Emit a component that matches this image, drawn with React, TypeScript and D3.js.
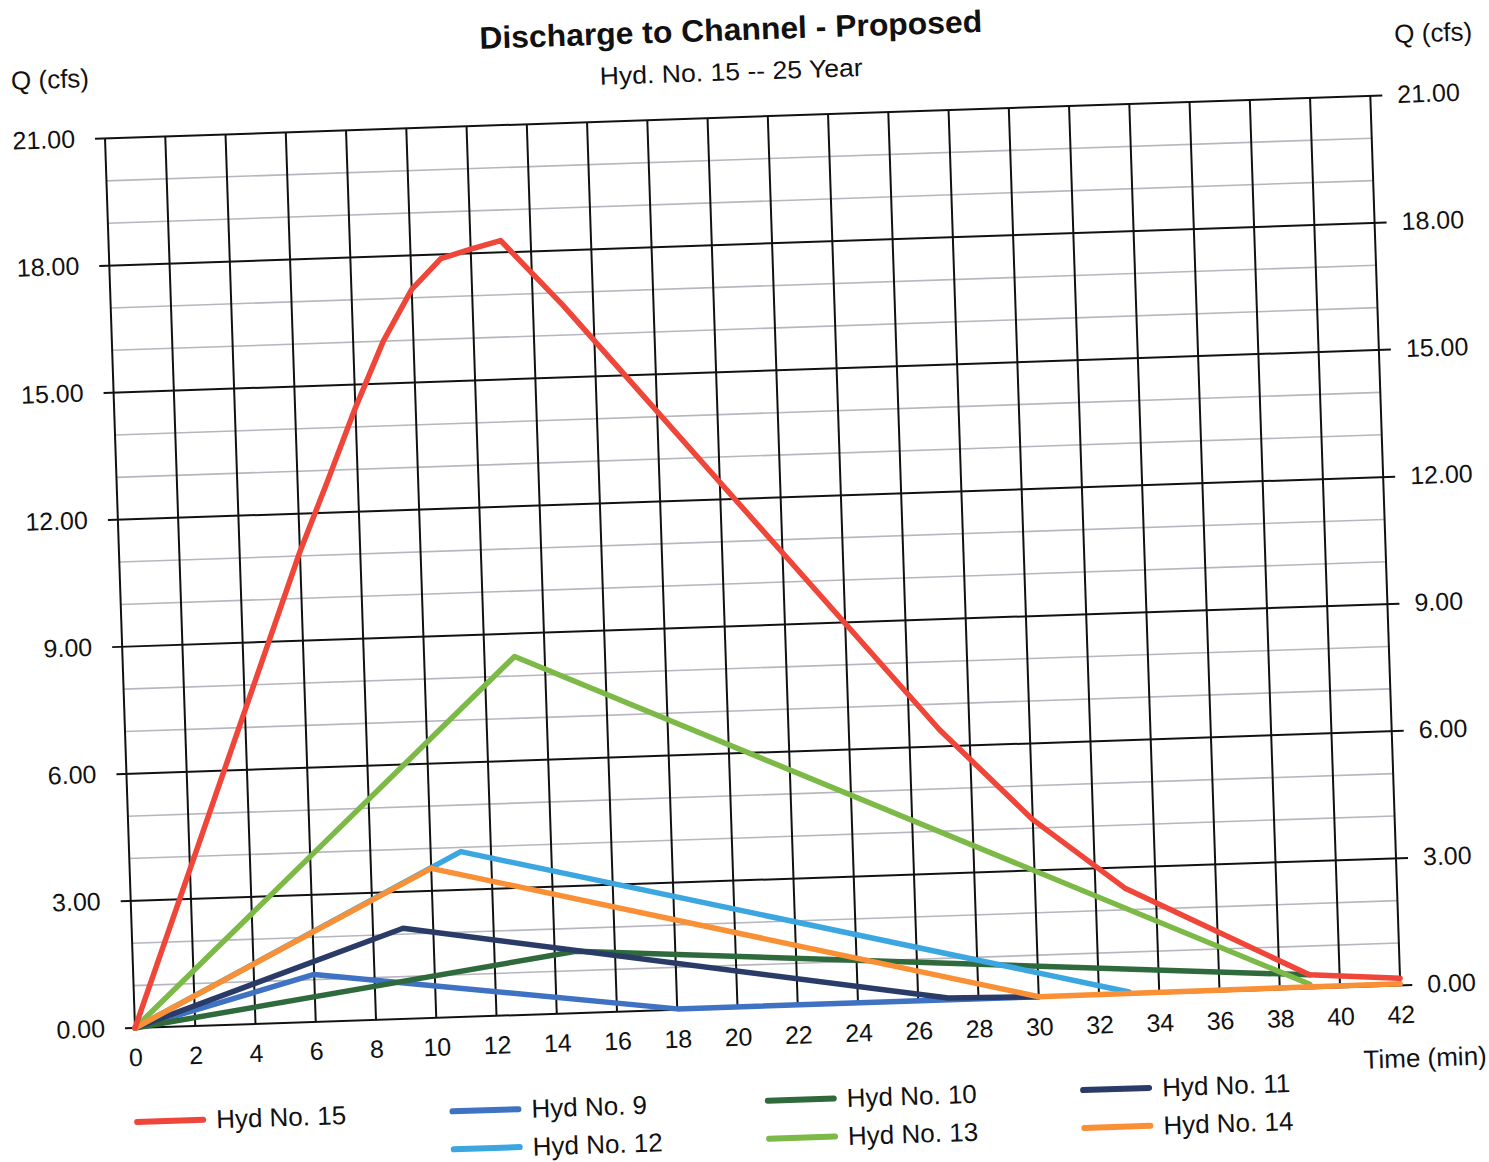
import React, { useRef, useEffect } from "react";
import * as d3 from "d3";

// axis ticks
const timeTicks = [0, 2, 4, 6, 8, 10, 12, 14, 16, 18, 20, 22, 24, 26, 28, 30, 32, 34, 36, 38, 40, 42];
const qTicks = [0, 3, 6, 9, 12, 15, 18, 21];

// hydrographs (time in min, Q in cfs)
const hyd15Time = [0, 6, 7, 8, 9, 10, 11, 12, 13, 15, 27, 30, 33, 39, 42];
const hyd15Q = [0, 11.1, 12.75, 14.45, 16.0, 17.2, 17.9, 18.1, 18.28, 16.7, 6.4, 4.2, 2.5, 0.32, 0.17];

const hyd9Time = [0, 6, 18, 30];
const hyd9Q = [0, 1.12, 0.02, 0.02];

const hyd10Time = [0, 14.7, 39];
const hyd10Q = [0, 1.46, 0.32];

const hyd11Time = [0, 9, 27, 30];
const hyd11Q = [0, 2.14, 0.06, 0.02];

const hyd12Time = [0, 11, 33];
const hyd12Q = [0, 3.9, 0.06];

const hyd13Time = [0, 13, 39];
const hyd13Q = [0, 8.46, 0.1];

const hyd14Time = [0, 10, 30, 42];
const hyd14Q = [0, 3.53, 0.02, 0.04];

const series = [
  { name: "Hyd No. 9", time: hyd9Time, q: hyd9Q, color: "#3f72c2" },
  { name: "Hyd No. 10", time: hyd10Time, q: hyd10Q, color: "#2f6a3d" },
  { name: "Hyd No. 11", time: hyd11Time, q: hyd11Q, color: "#2b3b68" },
  { name: "Hyd No. 12", time: hyd12Time, q: hyd12Q, color: "#3ca6e0" },
  { name: "Hyd No. 13", time: hyd13Time, q: hyd13Q, color: "#7cb947" },
  { name: "Hyd No. 14", time: hyd14Time, q: hyd14Q, color: "#fa9036" },
  { name: "Hyd No. 15", time: hyd15Time, q: hyd15Q, color: "#f0463a" },
];

const legendOrder = ["Hyd No. 15", "Hyd No. 9", "Hyd No. 12", "Hyd No. 10", "Hyd No. 13", "Hyd No. 11", "Hyd No. 14"];

function App() {
  const canvas = useRef(null);

  function drawChart() {
    const svg = d3.select(canvas.current);
    svg.selectAll("*").remove();

    const left = 135, right = 1401, top = 138, bottom = 1028;
    const x = d3.scaleLinear().domain([0, 42]).range([left, right]);
    const y = d3.scaleLinear().domain([0, 21]).range([bottom, top]);

    // the scanned page is tilted a little
    const g = svg
      .append("g")
      .attr("transform", `rotate(-1.93, ${left}, ${bottom})`)
      .style("font-family", "'Liberation Sans', Arial, sans-serif")
      .attr("fill", "#111");

    // minor grid
    g.append("g")
      .selectAll("line")
      .data(y.ticks(21).filter((d) => d % 3 !== 0))
      .join("line")
      .attr("x1", left)
      .attr("x2", right)
      .attr("y1", (d) => y(d))
      .attr("y2", (d) => y(d))
      .attr("stroke", "#b6b6be")
      .attr("stroke-width", 1.6);

    // vertical grid
    g.append("g")
      .selectAll("line")
      .data(timeTicks)
      .join("line")
      .attr("x1", (d) => x(d))
      .attr("x2", (d) => x(d))
      .attr("y1", top)
      .attr("y2", bottom)
      .attr("stroke", "#111")
      .attr("stroke-width", 2);

    // major grid + ticks on both sides
    g.append("g")
      .selectAll("line")
      .data(qTicks)
      .join("line")
      .attr("x1", left - 10)
      .attr("x2", right + 12)
      .attr("y1", (d) => y(d))
      .attr("y2", (d) => y(d))
      .attr("stroke", "#111")
      .attr("stroke-width", 2);

    const fmt = d3.format(".2f");
    g.append("g")
      .selectAll("text")
      .data(qTicks)
      .join("text")
      .attr("x", left - 30)
      .attr("y", (d) => y(d) + 8)
      .attr("text-anchor", "end")
      .style("font-size", "25px")
      .text((d) => fmt(d));

    g.append("g")
      .selectAll("text")
      .data(qTicks)
      .join("text")
      .attr("x", right + 27)
      .attr("y", (d) => y(d) + 8)
      .style("font-size", "25px")
      .text((d) => fmt(d));

    g.append("g")
      .selectAll("text")
      .data(timeTicks)
      .join("text")
      .attr("x", (d) => x(d))
      .attr("y", bottom + 38)
      .attr("text-anchor", "middle")
      .style("font-size", "25px")
      .text((d) => d);

    // hydrographs
    const line = d3
      .line()
      .x((d) => x(d[0]))
      .y((d) => y(d[1]));

    g.append("g")
      .selectAll("path")
      .data(series)
      .join("path")
      .attr("d", (s) => line(s.time.map((t, i) => [t, s.q[i]])))
      .attr("fill", "none")
      .attr("stroke", (s) => s.color)
      .attr("stroke-width", 5.5)
      .attr("stroke-linejoin", "round")
      .attr("stroke-linecap", "round");

    // titles
    g.append("text")
      .attr("x", 764)
      .attr("y", 61)
      .attr("text-anchor", "middle")
      .attr("textLength", 503)
      .attr("lengthAdjust", "spacingAndGlyphs")
      .style("font-size", "31px")
      .style("font-weight", "bold")
      .text("Discharge to Channel - Proposed");

    g.append("text")
      .attr("x", 763)
      .attr("y", 101)
      .attr("text-anchor", "middle")
      .attr("textLength", 263)
      .attr("lengthAdjust", "spacingAndGlyphs")
      .style("font-size", "25px")
      .text("Hyd. No. 15 -- 25 Year");

    g.append("text")
      .attr("x", 82)
      .attr("y", 86)
      .attr("text-anchor", "middle")
      .style("font-size", "26px")
      .text("Q (cfs)");

    g.append("text")
      .attr("x", 1466)
      .attr("y", 86)
      .attr("text-anchor", "middle")
      .style("font-size", "26px")
      .text("Q (cfs)");

    g.append("text")
      .attr("x", 1485)
      .attr("y", 1110)
      .attr("text-anchor", "end")
      .style("font-size", "26px")
      .text("Time (min)");

    // legend
    const colorOf = new Map(series.map((s) => [s.name, s.color]));
    const items = g
      .append("g")
      .selectAll("g")
      .data(legendOrder)
      .join("g")
      .attr("transform", (d, i) => {
        const col = i === 0 ? 0 : 1 + Math.floor((i - 1) / 2);
        const row = i === 0 ? 0 : (i - 1) % 2;
        return `translate(${134 + col * 315.5}, ${1122 + row * 38})`;
      });

    items
      .append("line")
      .attr("x1", 0)
      .attr("x2", 66)
      .attr("stroke", (d) => colorOf.get(d))
      .attr("stroke-width", 6)
      .attr("stroke-linecap", "round");

    items
      .append("text")
      .attr("x", 79)
      .attr("y", 9)
      .style("font-size", "26px")
      .text((d) => d);
  }

  useEffect(() => {
    drawChart();
  }, []);

  return (
    <>
      <svg
        ref={canvas}
        width={1489}
        height={1162}
        style={{ position: "absolute", left: 0, top: 0, background: "#fff" }}
      ></svg>
    </>
  );
}

export default App;
